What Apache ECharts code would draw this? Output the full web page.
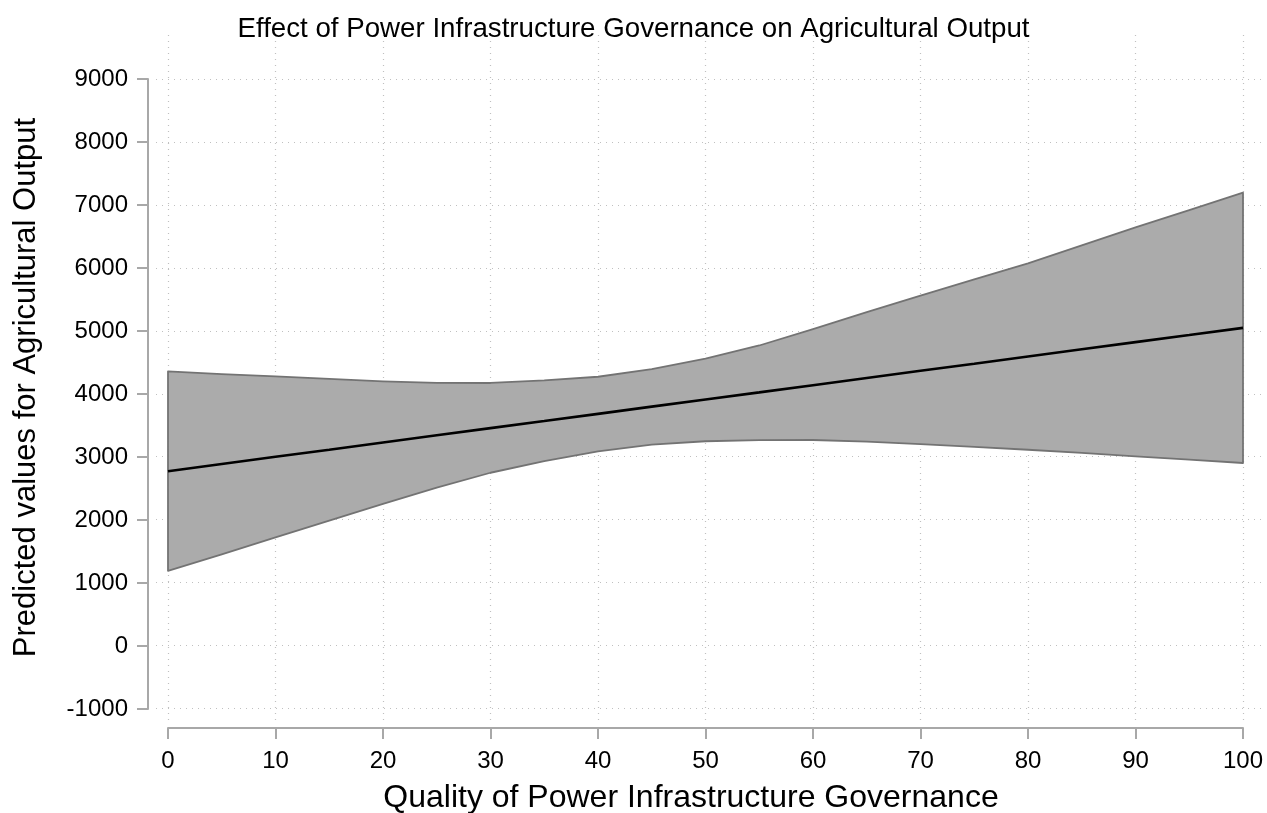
<!DOCTYPE html>
<html>
<head>
<meta charset="utf-8">
<script src="https://cdn.jsdelivr.net/npm/echarts@6/dist/echarts.min.js"></script>
<style>
html,body{margin:0;padding:0;background:#fff;}
#chart{width:1267px;height:813px;}
</style>
</head>
<body>
<div id="chart"></div>
<script>
// ---- data ----
const xValues = [0, 5, 10, 15, 20, 25, 30, 35, 40, 45, 50, 55, 60, 65, 70, 75, 80, 85, 90, 95, 100];
const predicted = [2775, 2889, 3003, 3116, 3230, 3344, 3458, 3571, 3685, 3799, 3913, 4026, 4140, 4254, 4368, 4481, 4595, 4709, 4823, 4936, 5050];
const upperCI = [4358, 4317, 4280, 4240, 4200, 4178, 4175, 4215, 4274, 4396, 4560, 4770, 5030, 5300, 5560, 5820, 6075, 6360, 6645, 6920, 7195];
const lowerCI = [1193, 1455, 1723, 1990, 2255, 2515, 2750, 2935, 3090, 3195, 3250, 3268, 3270, 3245, 3205, 3160, 3115, 3065, 3010, 2958, 2905];
const xTicks = [0, 10, 20, 30, 40, 50, 60, 70, 80, 90, 100];
const yTicks = [-1000, 0, 1000, 2000, 3000, 4000, 5000, 6000, 7000, 8000, 9000];

const titleText = 'Effect of Power Infrastructure Governance on Agricultural Output';
const xName = 'Quality of Power Infrastructure Governance';
const yName = 'Predicted values for Agricultural Output';

const FONT = 'Liberation Sans, Arial, Helvetica, sans-serif';
const chart = echarts.init(document.getElementById('chart'), null, {renderer: 'canvas'});

const gridLine = {show: true, lineStyle: {color: '#c0c0c0', width: 1.2, type: [1, 5]}};
const plain = v => String(v);

const option = {
  backgroundColor: '#fff',
  animation: false,
  title: {
    text: titleText, left: 'center', top: 10, padding: [5, 9, 5, 0],
    textStyle: {fontFamily: FONT, fontSize: 27.7, fontWeight: 'normal', color: '#000'}
  },
  grid: [
    // plot region (for the dotted grid lines)
    {left: 156, right: 5, top: 35, bottom: 93, outerBoundsMode: 'none', containLabel: false},
    // data region (exact tick range)
    {left: 168, right: 24, top: 79, bottom: 104, outerBoundsMode: 'none', containLabel: false}
  ],
  xAxis: [
    {
      type: 'value', gridIndex: 0, min: -1.12, max: 101.77,
      axisLine: {show: false}, axisLabel: {show: false, customValues: xTicks},
      axisTick: {show: false, customValues: xTicks}, splitLine: gridLine
    },
    {
      type: 'value', gridIndex: 1, min: 0, max: 100, interval: 10, offset: 19,
      axisLine: {show: true, onZero: false, lineStyle: {color: '#a8a8a8', width: 2}},
      axisTick: {show: true, length: 11, lineStyle: {color: '#a8a8a8', width: 2}},
      axisLabel: {margin: 21, fontFamily: FONT, fontSize: 24, color: '#000', formatter: plain},
      splitLine: {show: false},
      name: xName, nameLocation: 'middle', nameGap: 54,
      nameTextStyle: {fontFamily: FONT, fontSize: 32, color: '#000', padding: [0, 29, 0, 0]}
    }
  ],
  yAxis: [
    {
      type: 'value', gridIndex: 0, min: -1190, max: 9710,
      axisLine: {show: false}, axisLabel: {show: false, customValues: yTicks},
      axisTick: {show: false, customValues: yTicks}, splitLine: gridLine
    },
    {
      type: 'value', gridIndex: 1, min: -1000, max: 9000, interval: 1000, offset: 20,
      axisLine: {show: true, onZero: false, lineStyle: {color: '#a8a8a8', width: 2}},
      axisTick: {show: true, length: 11, lineStyle: {color: '#a8a8a8', width: 2}},
      axisLabel: {margin: 20, fontFamily: FONT, fontSize: 24, color: '#000', formatter: plain},
      splitLine: {show: false},
      name: yName, nameLocation: 'middle', nameGap: 106, nameRotate: 90,
      nameTextStyle: {fontFamily: FONT, fontSize: 31, color: '#000', padding: [0, 0, 0, 13]}
    }
  ],
  series: [
    {
      type: 'custom', xAxisIndex: 1, yAxisIndex: 1, data: [[0, 0]], z: 2,
      renderItem: function (params, api) {
        const pts = [];
        for (let i = 0; i < xValues.length; i++) pts.push(api.coord([xValues[i], upperCI[i]]));
        for (let i = xValues.length - 1; i >= 0; i--) pts.push(api.coord([xValues[i], lowerCI[i]]));
        return {
          type: 'polygon',
          shape: {points: pts},
          style: {fill: '#ababab', stroke: '#737373', lineWidth: 1.8, lineJoin: 'round'}
        };
      }
    },
    {
      type: 'line', xAxisIndex: 1, yAxisIndex: 1, z: 3,
      data: xValues.map((x, i) => [x, predicted[i]]),
      showSymbol: false, symbol: 'none',
      lineStyle: {color: '#000', width: 2.6}
    }
  ]
};
chart.setOption(option);
</script>
</body>
</html>
